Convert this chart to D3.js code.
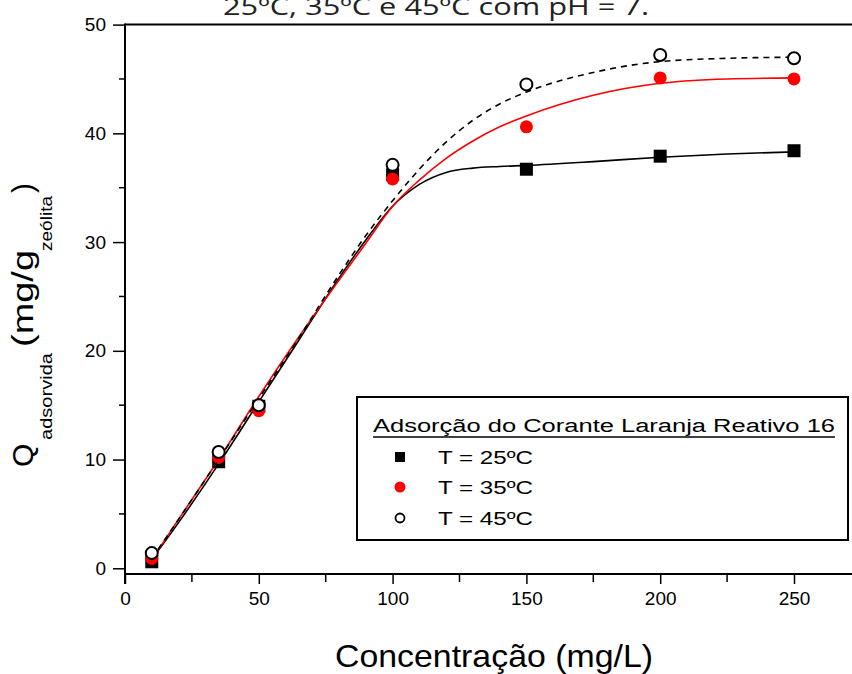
<!DOCTYPE html>
<html>
<head>
<meta charset="utf-8">
<title>Adsorção do Corante Laranja Reativo 16</title>
<script src="https://d3js.org/d3.v7.min.js"></script>
<style>
  body { margin: 0; background: #fff; }
  svg { display: block; }
  text { font-family: "Liberation Sans", Arial, sans-serif; fill: #000; }
</style>
</head>
<body>
<svg id="chart" width="852" height="674"></svg>
<script>
// measured points (concentração, Q)
var concentracao = [10, 35, 50, 100, 150, 200, 250];
var q25 = [0.6, 9.8, 14.9, 36.2, 36.7, 37.9, 38.4];
var q35 = [0.9, 10.2, 14.5, 35.8, 40.6, 45.1, 45.0];
var q45 = [1.4, 10.7, 15.0, 37.1, 44.5, 47.2, 46.9];

// fitted curves
var fitX   = [10, 20, 35, 50, 65, 80, 90, 100, 110, 120, 130, 140, 150, 175, 200, 225, 250];
var fit25  = [0.8, 4.2, 9.6, 15.3, 21.0, 26.7, 30.2, 33.3, 35.3, 36.4, 36.8, 36.95, 37.05, 37.4, 37.8, 38.1, 38.3];
var fit35  = [0.8, 4.5, 10.0, 15.8, 21.3, 26.5, 29.9, 33.3, 35.7, 37.7, 39.3, 40.6, 41.6, 43.5, 44.6, 45.0, 45.1];
var fit45  = [0.9, 4.5, 10.0, 15.6, 21.2, 27.0, 30.6, 33.8, 36.7, 39.2, 41.2, 42.7, 43.8, 45.6, 46.6, 46.9, 47.0];

var xTicks = [0, 50, 100, 150, 200, 250];
var yTicks = [0, 10, 20, 30, 40, 50];
var legendLabels = ["T = 25ºC", "T = 35ºC", "T = 45ºC"];

var svg = d3.select("#chart");

var x = d3.scaleLinear().domain([0, 280]).range([125, 125 + 280 * 2.676]);
var y = d3.scaleLinear().domain([0, 50]).range([568.3, 24.6]);

// title (cut off at the top in the original)
svg.append("text")
  .attr("x", 223).attr("y", 15)
  .attr("textLength", 426).attr("lengthAdjust", "spacingAndGlyphs")
  .style("font-family", "'Open Sans', 'Noto Sans', sans-serif")
  .style("font-size", "23px").style("fill", "#222")
  .text("25ºC, 35ºC e 45ºC com pH = 7.");

// frame: top line
svg.append("line")
  .attr("x1", 125).attr("x2", 852).attr("y1", y(50)).attr("y2", y(50))
  .attr("stroke", "#000").attr("stroke-width", 2);

// y axis
var yAxis = d3.axisLeft(y).tickValues(yTicks).tickSize(12).tickSizeOuter(0).tickPadding(7);
var gy = svg.append("g").attr("transform", "translate(125,0)").call(yAxis);
gy.select(".domain").remove();
gy.append("line").attr("x1", 0).attr("x2", 0).attr("y1", y(50) - 1).attr("y2", 584)
  .attr("stroke", "#000").attr("stroke-width", 2);
gy.selectAll(".tick line").attr("stroke-width", 1.5);
gy.selectAll(".tick text").style("font-size", "19px").style("font-family", "'Liberation Sans', Arial, sans-serif");
gy.selectAll(".minor").data(d3.range(5, 50, 10)).enter().append("line")
  .attr("x1", -6).attr("x2", 0).attr("y1", function(d) { return y(d); }).attr("y2", function(d) { return y(d); })
  .attr("stroke", "#000").attr("stroke-width", 1.5);

// x axis, drawn a little below y = 0
var xAxis = d3.axisBottom(x).tickValues(xTicks).tickSize(10).tickSizeOuter(0).tickPadding(8);
var gx = svg.append("g").attr("transform", "translate(0,574)").call(xAxis);
gx.select(".domain").remove();
gx.append("line").attr("x1", 124).attr("x2", 852).attr("y1", 0).attr("y2", 0)
  .attr("stroke", "#000").attr("stroke-width", 2);
gx.selectAll(".tick line").attr("stroke-width", 1.5);
gx.selectAll(".tick text").style("font-size", "19px").style("font-family", "'Liberation Sans', Arial, sans-serif");
gx.selectAll(".minor").data([25, 75, 125, 175, 225, 275]).enter().append("line")
  .attr("x1", function(d) { return x(d); }).attr("x2", function(d) { return x(d); })
  .attr("y1", 0).attr("y2", 8)
  .attr("stroke", "#000").attr("stroke-width", 1.5);

// axis titles
svg.append("text")
  .attr("x", 335).attr("y", 667)
  .attr("textLength", 318).attr("lengthAdjust", "spacingAndGlyphs")
  .style("font-size", "32px")
  .text("Concentração (mg/L)");

var yl = svg.append("g").attr("transform", "translate(33,467) rotate(-90)");
yl.append("text").attr("x", 0).attr("y", 0).style("font-size", "30px").text("Q");
yl.append("text").attr("x", 27).attr("y", 19).attr("textLength", 87).attr("lengthAdjust", "spacingAndGlyphs")
  .style("font-size", "16px").text("adsorvida");
yl.append("text").attr("x", 120).attr("y", 0).attr("textLength", 97).attr("lengthAdjust", "spacingAndGlyphs")
  .style("font-size", "30px").text("(mg/g");
yl.append("text").attr("x", 216).attr("y", 19).attr("textLength", 55).attr("lengthAdjust", "spacingAndGlyphs")
  .style("font-size", "16px").text("zeólita");
yl.append("text").attr("x", 274).attr("y", 0).style("font-size", "30px").text(")");

// fitted lines
function lineOf(vals) {
  return d3.line()
    .x(function(d, i) { return x(fitX[i]); })
    .y(function(d) { return y(d); })
    .curve(d3.curveMonotoneX)(vals);
}

function pts(vals) {
  return vals.map(function(v, i) { return {c: concentracao[i], q: v}; });
}

// 25 C
svg.append("path").attr("d", lineOf(fit25)).attr("fill", "none").attr("stroke", "#000").attr("stroke-width", 1.6);
svg.selectAll(".s25").data(pts(q25)).enter().append("rect")
  .attr("x", function(d) { return x(d.c) - 6.5; }).attr("y", function(d) { return y(d.q) - 6.5; })
  .attr("width", 13).attr("height", 13).attr("fill", "#000");

// 35 C
svg.append("path").attr("d", lineOf(fit35)).attr("fill", "none").attr("stroke", "#ff0000").attr("stroke-width", 1.6);
svg.selectAll(".s35").data(pts(q35)).enter().append("circle")
  .attr("cx", function(d) { return x(d.c); }).attr("cy", function(d) { return y(d.q); })
  .attr("r", 6.5).attr("fill", "#ff0000");

// 45 C
svg.append("path").attr("d", lineOf(fit45)).attr("fill", "none").attr("stroke", "#000")
  .attr("stroke-width", 1.6).attr("stroke-dasharray", "6,5");
svg.selectAll(".s45").data(pts(q45)).enter().append("circle")
  .attr("cx", function(d) { return x(d.c); }).attr("cy", function(d) { return y(d.q); })
  .attr("r", 6).attr("fill", "#fff").attr("stroke", "#000").attr("stroke-width", 2);

// legend
var lg = svg.append("g");
lg.append("rect").attr("x", 357).attr("y", 397).attr("width", 491).attr("height", 143)
  .attr("fill", "#fff").attr("stroke", "#000").attr("stroke-width", 2);
lg.append("text").attr("x", 373).attr("y", 432)
  .attr("textLength", 462).attr("lengthAdjust", "spacingAndGlyphs")
  .style("font-size", "18px").text("Adsorção do Corante Laranja Reativo 16");
lg.append("line").attr("x1", 373).attr("x2", 835).attr("y1", 437).attr("y2", 437)
  .attr("stroke", "#000").attr("stroke-width", 1.5);

var rowY = [457, 487, 518];
lg.append("rect").attr("x", 395).attr("y", rowY[0] - 5).attr("width", 10).attr("height", 10).attr("fill", "#000");
lg.append("circle").attr("cx", 400).attr("cy", rowY[1]).attr("r", 5.5).attr("fill", "#ff0000");
lg.append("circle").attr("cx", 400).attr("cy", rowY[2]).attr("r", 4.5).attr("fill", "#fff")
  .attr("stroke", "#000").attr("stroke-width", 1.8);
lg.selectAll(".lt").data(legendLabels).enter().append("text")
  .attr("x", 438).attr("y", function(d, i) { return rowY[i] + 7; })
  .attr("textLength", 95).attr("lengthAdjust", "spacingAndGlyphs")
  .style("font-size", "19px")
  .text(function(d) { return d; });
</script>
</body>
</html>
